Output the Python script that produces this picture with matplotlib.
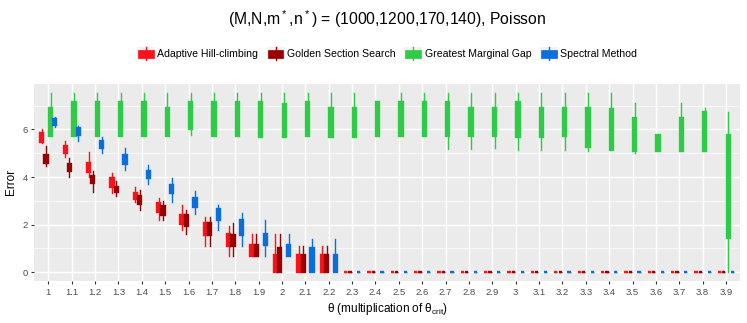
"""
Error boxplots by theta for four search methods (ggplot-like styling)
"""
import matplotlib
matplotlib.use('Agg')
import matplotlib.pyplot as plt
from matplotlib.patches import Rectangle, Patch
from matplotlib.lines import Line2D
from matplotlib.legend_handler import HandlerBase
import numpy as np

plt.rcParams['font.family'] = ['Liberation Sans', 'DejaVu Sans']
plt.rcParams['mathtext.default'] = 'regular'

# x categories
theta_labels = ['1', '1.1', '1.2', '1.3', '1.4', '1.5', '1.6', '1.7', '1.8', '1.9',
                '2', '2.1', '2.2', '2.3', '2.4', '2.5', '2.6', '2.7', '2.8', '2.9',
                '3', '3.1', '3.2', '3.3', '3.4', '3.5', '3.6', '3.7', '3.8', '3.9']

# box stats per theta: (whisker low, q1, q3, whisker high)
hill_climbing = [
    (5.42, 5.49, 5.84, 6.01), (4.83, 5.02, 5.32, 5.51), (3.98, 4.22, 4.60, 5.04),
    (3.34, 3.59, 3.94, 4.18), (2.97, 3.07, 3.33, 3.59), (2.21, 2.53, 2.91, 3.10),
    (1.79, 2.04, 2.39, 2.84), (1.10, 1.58, 2.08, 2.32), (0.68, 1.10, 1.62, 1.93),
    (0.68, 0.68, 1.15, 1.61), (0, 0, 0.73, 1.61), (0, 0, 0.73, 1.10),
    (0, 0, 0.73, 1.10), (0, 0, 0, 0), (0, 0, 0, 0), (0, 0, 0, 0), (0, 0, 0, 0),
    (0, 0, 0, 0), (0, 0, 0, 0), (0, 0, 0, 0), (0, 0, 0, 0), (0, 0, 0, 0),
    (0, 0, 0, 0), (0, 0, 0, 0), (0, 0, 0, 0), (0, 0, 0, 0), (0, 0, 0, 0),
    (0, 0, 0, 0), (0, 0, 0, 0), (0, 0, 0, 0),
]
golden_section = [
    (4.46, 4.60, 4.92, 5.32), (3.98, 4.26, 4.53, 4.78), (3.35, 3.73, 4.05, 4.24),
    (3.21, 3.38, 3.59, 3.83), (2.63, 2.88, 3.20, 3.45), (2.18, 2.39, 2.77, 2.99),
    (1.59, 1.93, 2.42, 2.60), (1.10, 1.58, 2.08, 2.32), (0.68, 1.10, 1.58, 2.08),
    (0.68, 0.68, 1.15, 1.61), (0, 0, 1.03, 1.61), (0, 0, 0.73, 1.10),
    (0, 0, 0.73, 1.10), (0, 0, 0, 0), (0, 0, 0, 0), (0, 0, 0, 0), (0, 0, 0, 0),
    (0, 0, 0, 0), (0, 0, 0, 0), (0, 0, 0, 0), (0, 0, 0, 0), (0, 0, 0, 0),
    (0, 0, 0, 0), (0, 0, 0, 0), (0, 0, 0, 0), (0, 0, 0, 0), (0, 0, 0, 0),
    (0, 0, 0, 0), (0, 0, 0, 0), (0, 0, 0, 0),
]
marginal_gap = [
    (5.73, 5.73, 6.92, 7.55), (5.73, 5.73, 7.14, 7.55), (5.73, 5.73, 7.14, 7.55),
    (5.73, 5.73, 7.14, 7.55), (5.73, 5.73, 7.14, 7.55), (5.73, 5.73, 6.92, 7.55),
    (5.77, 6.01, 7.14, 7.55), (5.73, 5.73, 7.14, 7.55), (5.73, 5.73, 7.14, 7.55),
    (5.70, 5.70, 7.14, 7.55), (5.70, 5.70, 7.07, 7.55), (5.73, 5.73, 7.14, 7.55),
    (5.70, 5.70, 6.92, 7.55), (5.70, 5.70, 6.92, 7.55), (5.73, 5.73, 7.14, 7.14),
    (5.73, 5.73, 7.14, 7.55), (5.73, 5.73, 7.14, 7.55), (5.17, 5.73, 7.14, 7.55),
    (5.17, 5.73, 6.92, 7.55), (5.21, 5.73, 6.92, 7.55), (5.14, 5.70, 7.14, 7.55),
    (5.14, 5.70, 6.92, 7.55), (5.14, 5.73, 6.92, 7.55), (5.11, 5.28, 6.92, 7.55),
    (5.14, 5.14, 6.86, 7.55), (5.00, 5.11, 6.50, 7.13), (5.10, 5.10, 5.77, 5.77),
    (5.10, 5.10, 6.50, 7.13), (5.10, 5.10, 6.75, 6.89), (0.00, 1.43, 5.77, 6.75),
]
spectral = [
    (6.12, 6.19, 6.43, 6.51), (5.53, 5.77, 6.08, 6.16), (4.99, 5.23, 5.53, 5.70),
    (4.29, 4.55, 4.92, 5.20), (3.70, 3.94, 4.26, 4.50), (2.97, 3.31, 3.66, 3.94),
    (2.46, 2.74, 3.10, 3.40), (1.79, 2.21, 2.65, 2.84), (1.10, 1.58, 2.21, 2.49),
    (0.68, 1.15, 1.62, 2.18), (0.68, 0.68, 1.15, 1.61), (0, 0, 1.03, 1.40),
    (0, 0, 0.73, 1.40), (0, 0, 0, 0), (0, 0, 0, 0), (0, 0, 0, 0), (0, 0, 0, 0),
    (0, 0, 0, 0), (0, 0, 0, 0), (0, 0, 0, 0), (0, 0, 0, 0), (0, 0, 0, 0),
    (0, 0, 0, 0), (0, 0, 0, 0), (0, 0, 0, 0), (0, 0, 0, 0), (0, 0, 0, 0),
    (0, 0, 0, 0), (0, 0, 0, 0), (0, 0, 0, 0),
]

method_names = ['Adaptive Hill-climbing', 'Golden Section Search',
                'Greatest Marginal Gap', 'Spectral Method']
method_data = [hill_climbing, golden_section, marginal_gap, spectral]
method_colors = ['#F8121A', '#990000', '#2ECC46', '#0A6FDC']


class BoxKeyHandler(HandlerBase):
    """ggplot 风格的箱线图图例键"""
    def create_artists(self, legend, orig_handle, xdescent, ydescent,
                       width, height, fontsize, trans):
        c = orig_handle.get_facecolor()
        x0, y0 = -xdescent, -ydescent
        bg = Rectangle((x0, y0), width, height, facecolor='#F2F2F2',
                       edgecolor='none', transform=trans)
        whisk = Line2D([x0 + width / 2] * 2, [y0, y0 + height], color=c,
                       lw=1.0, transform=trans)
        box = Rectangle((x0 + width * 0.06, y0 + height * 0.2), width * 0.88,
                        height * 0.6, facecolor=c, edgecolor=c, lw=0.5,
                        transform=trans)
        return [bg, whisk, box]


W, H = 747, 323
fig = plt.figure(figsize=(W / 100, H / 100), dpi=100)
ax = fig.add_axes([34.3 / W, 1 - 281 / H, (740 - 34.3) / W, (281 - 83.5) / H])
ax.set_facecolor('#EBEBEB')
for s in ax.spines.values():
    s.set_visible(False)

x = np.arange(len(theta_labels))
offsets = [-0.28, -0.094, 0.094, 0.28]

for rows, color, off in zip(method_data, method_colors, offsets):
    stats = [dict(whislo=lo, q1=q1, med=(q1 + q3) / 2, q3=q3, whishi=hi)
             for lo, q1, q3, hi in rows]
    ax.bxp(stats, positions=x + off, widths=0.14, patch_artist=True,
           showfliers=False, showcaps=False, manage_ticks=False,
           boxprops=dict(facecolor=color, edgecolor=color, linewidth=1.7),
           whiskerprops=dict(color=color, linewidth=1.0),
           medianprops=dict(color=color, linewidth=1.0))

# 坐标轴与网格
ax.set_xlim(-0.6, len(theta_labels) - 0.4)
ax.set_ylim(-0.37, 7.93)
ax.set_xticks(x)
ax.set_xticklabels(theta_labels)
ax.set_yticks([0, 2, 4, 6])
ax.set_yticks([1, 3, 5, 7], minor=True)
ax.set_axisbelow(True)
ax.grid(which='major', color='white', linewidth=1.05)
ax.grid(which='minor', axis='y', color='white', linewidth=0.5)
ax.tick_params(which='major', length=2.2, width=0.8, color='#333333',
               labelsize=6.8, labelcolor='#4D4D4D', pad=2.5)
ax.tick_params(which='minor', length=0)

ax.set_ylabel('Error', fontsize=8.5, labelpad=4)
ax.set_xlabel('θ (multiplication of θ$_{crit}$)', fontsize=8.5, labelpad=3)

fig.text(387 / W, 1 - 19 / H, '(M,N,m$^*$,n$^*$) = (1000,1200,170,140), Poisson',
         ha='center', va='center', fontsize=11.3)

handles = [Patch(facecolor=c) for c in method_colors]
fig.legend(handles, method_names, loc='center',
           bbox_to_anchor=(387 / W, 1 - 53.7 / H), ncol=4, frameon=False,
           fontsize=7.6, handlelength=1.7, handleheight=1.6,
           handletextpad=0.25, columnspacing=0.8, borderpad=0,
           handler_map={Patch: BoxKeyHandler()})

fig.savefig('out.png', dpi=100)
